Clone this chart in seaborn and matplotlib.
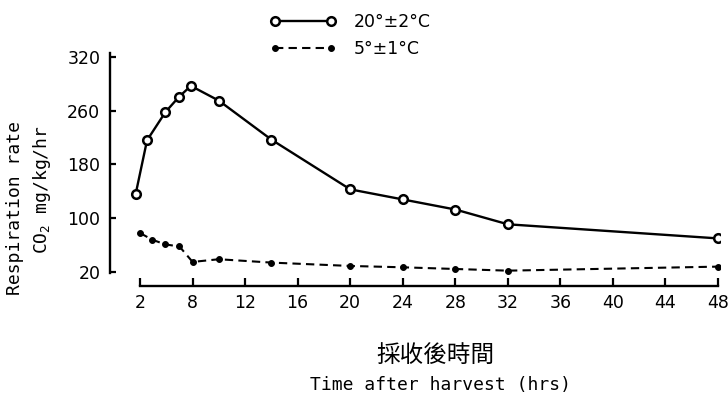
import numpy as np
import pandas as pd
import matplotlib
matplotlib.use("Agg")
import matplotlib.pyplot as plt
import seaborn as sns

# ---------------- data ----------------
hours_20c = [1.5, 2.8, 4.9, 6.4, 7.8, 10, 14, 20, 24, 28, 32, 48]
rate_20c = [136, 216, 258, 280, 297, 275, 217, 143, 128, 113, 91, 70]

hours_5c = [2, 3.4, 4.9, 6.5, 8, 10, 14, 20, 24, 28, 32, 48]
rate_5c = [78, 68, 61, 58, 35, 39, 34, 29, 27, 24.5, 22, 28]

label_20c = "20°±2°C"
label_5c = "5°±1°C"

x_ticks = [2, 8, 12, 16, 20, 24, 28, 32, 36, 40, 44, 48]
x_tick_labels = ["2", "8", "12", "16", "20", "24", "28", "32", "36", "40", "44", "48"]
y_ticks = [20, 100, 180, 260, 340]
y_tick_labels = ["20", "100", "180", "260", "320"]

title_zh = "採收後時間"
xlabel_en = "Time after harvest (hrs)"
ylabel_1 = "Respiration rate"
ylabel_2 = "CO$_2$ mg/kg/hr"

# ---------------- style ----------------
sns.set_theme(style="white")
plt.rcParams["font.family"] = ["DejaVu Sans", "Noto Sans CJK TC"]
plt.rcParams["mathtext.default"] = "regular"
plt.rcParams["text.color"] = "black"
plt.rcParams["axes.labelcolor"] = "black"
plt.rcParams["xtick.color"] = "black"
plt.rcParams["ytick.color"] = "black"

fig = plt.figure(figsize=(7.28, 3.96), dpi=100)
ax = fig.add_axes([110 / 728, 1 - 286 / 396, 610 / 728, 234 / 396])

df20 = pd.DataFrame({"hours": hours_20c, "rate": rate_20c})
df5 = pd.DataFrame({"hours": hours_5c, "rate": rate_5c})

sns.lineplot(data=df20, x="hours", y="rate", ax=ax, color="black", lw=1.7,
             marker="o", markersize=6.2, markerfacecolor="white",
             markeredgecolor="black", markeredgewidth=1.8, label=label_20c)
sns.lineplot(data=df5, x="hours", y="rate", ax=ax, color="black", lw=1.5,
             linestyle=(0, (4, 2.5)), marker="o", markersize=4.2,
             markerfacecolor="black", markeredgecolor="black", label=label_5c)


# compressed start of the time axis (2 -> 8 drawn as a short segment)
def fwd(x):
    x = np.asarray(x, dtype=float)
    return np.where(x < 8, 8 - (8 - x) * 4 / 6, x)


def inv(t):
    t = np.asarray(t, dtype=float)
    return np.where(t < 8, 8 - (8 - t) * 6 / 4, t)


ax.set_xscale("function", functions=(fwd, inv))
ax.set_xlim(-1.43, 48.15)
ax.set_ylim(-0.83, 347.4)

ax.set_xticks(x_ticks)
ax.set_xticklabels(x_tick_labels, fontsize=12.5)
ax.set_yticks(y_ticks)
ax.set_yticklabels(y_tick_labels, fontsize=12.5)
ax.minorticks_off()

ax.tick_params(axis="x", which="major", bottom=True, direction="in", length=6,
               width=1.6, pad=6, colors="black")
ax.tick_params(axis="y", which="major", left=True, direction="in", length=4,
               width=1.6, pad=7, colors="black")

for s in ["top", "right"]:
    ax.spines[s].set_visible(False)
for s in ["left", "bottom"]:
    ax.spines[s].set_color("black")
    ax.spines[s].set_linewidth(1.7)
ax.spines["bottom"].set_bounds(2, 48)
ax.spines["left"].set_bounds(18.5, 346)
ax.set_xlabel("")
ax.set_ylabel("")
ax.grid(False)

leg = ax.legend(loc="upper left", bbox_to_anchor=(270 / 728, 0.966),
                bbox_transform=fig.transFigure, frameon=False, fontsize=12.5,
                numpoints=2, handlelength=3.8, handletextpad=1.0,
                labelspacing=0.5, borderpad=0, borderaxespad=0)
for t in leg.get_texts():
    t.set_color("black")

mono = "DejaVu Sans Mono"
fig.text(15 / 728, 1 - 208 / 396, ylabel_1, rotation=90, ha="center", va="center",
         family=mono, fontsize=13, color="black")
fig.text(42 / 728, 1 - 190 / 396, ylabel_2, rotation=90, ha="center", va="center",
         family=mono, fontsize=13, color="black")
fig.text(435 / 728, 1 - 355 / 396, title_zh, ha="center", va="center",
         family=["Noto Sans CJK TC", "DejaVu Sans"], fontsize=17, color="black")
fig.text(440 / 728, 1 - 385 / 396, xlabel_en, ha="center", va="center",
         family=mono, fontsize=13, color="black")

fig.savefig("out.png", dpi=100, facecolor="white")
